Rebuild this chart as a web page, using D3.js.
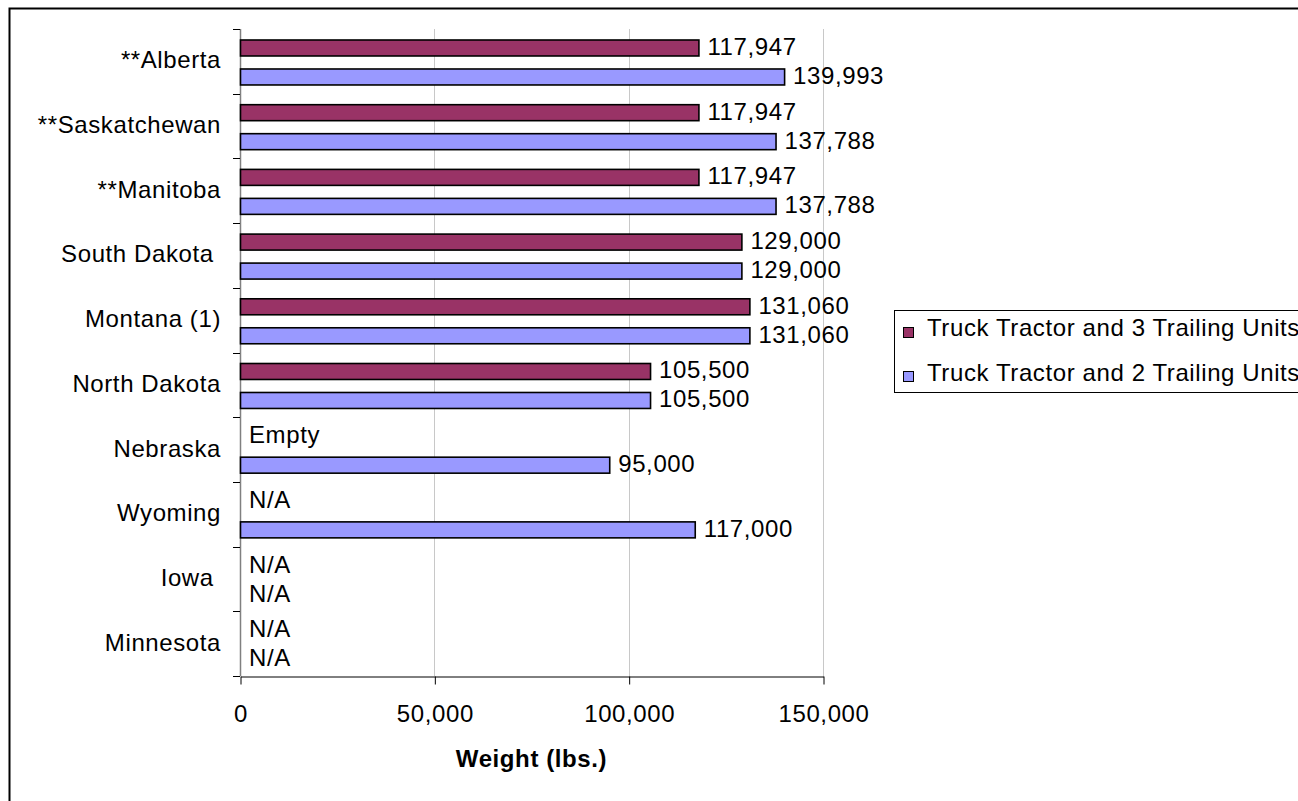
<!DOCTYPE html>
<html>
<head>
<meta charset="utf-8">
<script src="https://cdn.jsdelivr.net/npm/d3@7"></script>
<style>
  body { margin: 0; background: #fff; }
  svg { display: block; font-family: "Liberation Sans", Arial, sans-serif; }
  text { white-space: pre; letter-spacing: 0.6px; }
</style>
</head>
<body>
<div class="chart"></div>
<script>
const categories = ["**Alberta", "**Saskatchewan", "**Manitoba", "South Dakota ", "Montana (1)",
  "North Dakota", "Nebraska", "Wyoming", "Iowa ", "Minnesota"];
// null = no bar, label text given instead
const threeTrailing = [117947, 117947, 117947, 129000, 131060, 105500, null, null, null, null];
const threeTrailingText = [null, null, null, null, null, null, "Empty", "N/A", "N/A", "N/A"];
const twoTrailing = [139993, 137788, 137788, 129000, 131060, 105500, 95000, 117000, null, null];
const twoTrailingText = [null, null, null, null, null, null, null, null, "N/A", "N/A"];
const xTicks = [0, 50000, 100000, 150000];
const seriesNames = ["Truck Tractor and 3 Trailing Units", "Truck Tractor and 2 Trailing Units"];
const seriesColors = ["#993366", "#9999FF"];

const WIDTH = 1298;
const HEIGHT = 801;
const PLOT_LEFT = 240;
const PLOT_RIGHT = 823;
const PLOT_TOP = 29;
const PLOT_BOTTOM = 676;
const FONT = 24;

const fmt = d3.format(",");

const svg = d3.create("svg").attr("width", WIDTH).attr("height", HEIGHT);

// chart area border (runs off the right and bottom edges)
svg.append("rect")
  .attr("x", 9.5).attr("y", 8.5)
  .attr("width", 1400).attr("height", 900)
  .attr("fill", "none").attr("stroke", "#000").attr("stroke-width", 2);

const x = d3.scaleLinear().domain([0, 150000]).range([PLOT_LEFT, PLOT_RIGHT]);
const y = d3.scaleBand().domain(categories).range([PLOT_TOP, PLOT_BOTTOM]);
const bw = y.bandwidth();
const barH = bw * 0.247;
const offsets = [bw * 0.17, bw * 0.618];

// gridlines
svg.append("g")
  .selectAll("line")
  .data(xTicks.slice(1))
  .join("line")
  .attr("x1", (d) => Math.round(x(d)) + 0.5)
  .attr("x2", (d) => Math.round(x(d)) + 0.5)
  .attr("y1", PLOT_TOP)
  .attr("y2", PLOT_BOTTOM)
  .attr("stroke", "#c8c8c8");

// x axis
const xAxis = d3.axisBottom(x).tickValues(xTicks).tickFormat(fmt).tickSize(8).tickPadding(20).tickSizeOuter(0);
svg.append("g")
  .attr("transform", `translate(0.5, ${PLOT_BOTTOM + 0.5})`)
  .call(xAxis)
  .call((g) => g.select(".domain").attr("stroke", "#000"))
  .call((g) => g.selectAll("text").attr("font-size", FONT).attr("fill", "#000")
    .attr("font-family", "Liberation Sans, Arial, sans-serif"));

// y axis: ticks between categories
const yTicks = categories.map((c) => y(c)).concat([PLOT_BOTTOM]);
const yAxisG = svg.append("g");
yAxisG.append("line")
  .attr("x1", PLOT_LEFT + 0.5).attr("x2", PLOT_LEFT + 0.5)
  .attr("y1", PLOT_TOP).attr("y2", PLOT_BOTTOM)
  .attr("stroke", "#808080").attr("stroke-width", 1.5);
yAxisG.selectAll("line.tick")
  .data(yTicks)
  .join("line")
  .attr("class", "tick")
  .attr("x1", PLOT_LEFT - 7).attr("x2", PLOT_LEFT)
  .attr("y1", (d) => Math.round(d) + 0.5).attr("y2", (d) => Math.round(d) + 0.5)
  .attr("stroke", "#000");
yAxisG.selectAll("text")
  .data(categories)
  .join("text")
  .attr("x", 221)
  .attr("y", (d) => y(d) + bw / 2 + 7)
  .attr("text-anchor", "end")
  .attr("font-size", FONT)
  .text((d) => d);

// bars and labels
const series = [
  { values: threeTrailing, texts: threeTrailingText },
  { values: twoTrailing, texts: twoTrailingText },
];

series.forEach((s, si) => {
  const g = svg.append("g");
  const rows = categories.map((c, i) => ({ cat: c, value: s.values[i], text: s.texts[i] }));
  g.selectAll("rect")
    .data(rows.filter((r) => r.value !== null))
    .join("rect")
    .attr("x", x(0) + 0.5)
    .attr("y", (r) => y(r.cat) + offsets[si])
    .attr("width", (r) => x(r.value) - x(0))
    .attr("height", barH)
    .attr("fill", seriesColors[si])
    .attr("stroke", "#000")
    .attr("stroke-width", 1.6);
  g.selectAll("text")
    .data(rows)
    .join("text")
    .attr("x", (r) => (r.value !== null ? x(r.value) : x(0)) + 9)
    .attr("y", (r) => y(r.cat) + offsets[si] + barH / 2 + 7)
    .attr("font-size", FONT)
    .text((r) => (r.value !== null ? fmt(r.value) : r.text));
});

// axis title
svg.append("text")
  .attr("x", (PLOT_LEFT + PLOT_RIGHT) / 2)
  .attr("y", 767)
  .attr("text-anchor", "middle")
  .attr("font-size", FONT)
  .attr("font-weight", "bold")
  .attr("letter-spacing", 1)
  .text("Weight (lbs.)");

// legend
const legend = svg.append("g");
legend.append("rect")
  .attr("x", 894.5).attr("y", 310.5)
  .attr("width", 500).attr("height", 82)
  .attr("fill", "#fff").attr("stroke", "#000");
legend.selectAll("rect.sw")
  .data(seriesNames)
  .join("rect")
  .attr("class", "sw")
  .attr("x", 903.5)
  .attr("y", (d, i) => 327.5 + i * 44)
  .attr("width", 10).attr("height", 10)
  .attr("fill", (d, i) => seriesColors[i])
  .attr("stroke", "#000");
legend.selectAll("text")
  .data(seriesNames)
  .join("text")
  .attr("x", 927)
  .attr("y", (d, i) => 336 + i * 45)
  .attr("font-size", FONT)
  .text((d) => d);

document.querySelector(".chart").append(svg.node());
</script>
</body>
</html>
